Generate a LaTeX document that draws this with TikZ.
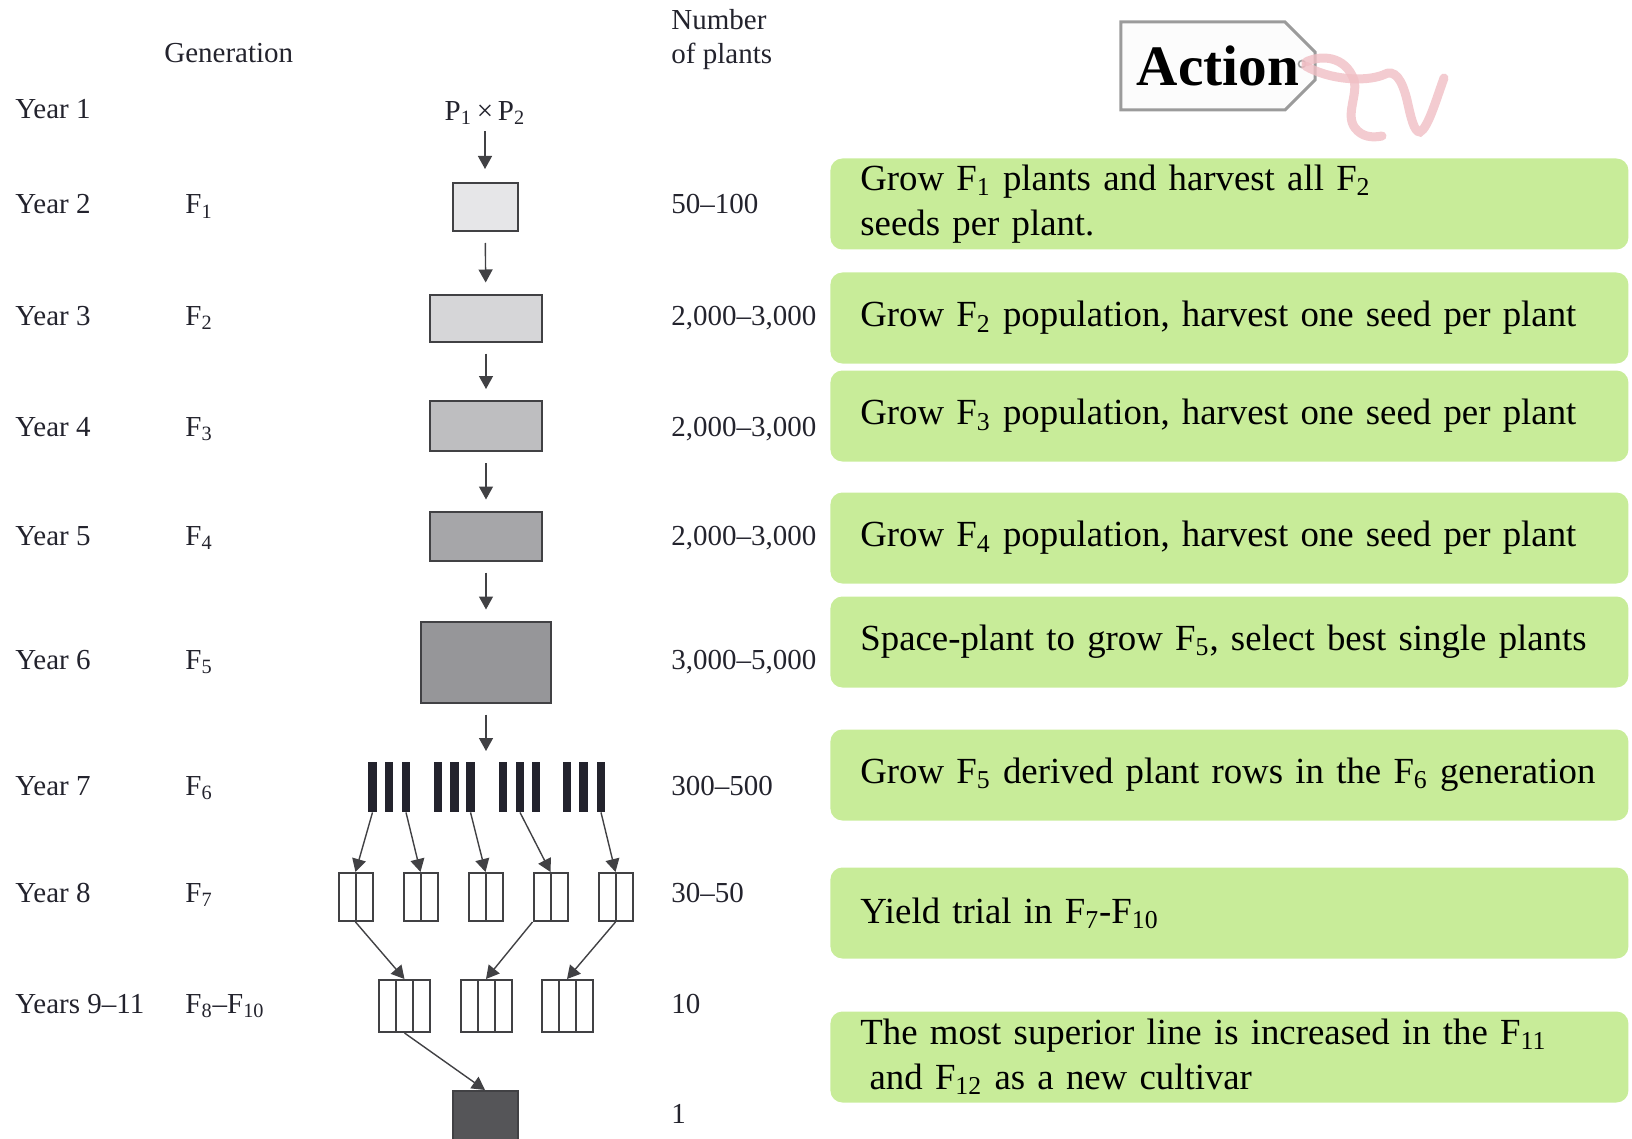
\documentclass[tikz,border=0pt]{standalone}
\usepackage{fontspec}
\setmainfont{Liberation Serif}
\usepackage{tikz}
\usetikzlibrary{arrows.meta, positioning, shapes.misc}
\definecolor{mydark}{RGB}{35,35,45}
\definecolor{myedge}{RGB}{65,65,68}
\definecolor{mygreen}{RGB}{200,236,153}
\definecolor{mypink}{RGB}{240,190,196}
\definecolor{tagedge}{RGB}{155,155,155}
\definecolor{tagfill}{RGB}{252,252,252}
\definecolor{shadeA}{RGB}{230,230,232}
\definecolor{shadeB}{RGB}{214,214,216}
\definecolor{shadeC}{RGB}{190,190,192}
\definecolor{shadeD}{RGB}{166,166,169}
\definecolor{shadeE}{RGB}{150,150,153}
\definecolor{shadeF}{RGB}{85,85,88}
\newcommand{\lblfont}{\fontsize{14.5}{17.4}\selectfont}
\newcommand{\actfont}{\fontsize{18.4}{22.5}\selectfont}
\newcommand{\Fs}[1]{F\textsubscript{#1}}
\tikzset{
  lbl/.style={anchor=base west, font=\lblfont, text=mydark, inner sep=0pt},
  genbox/.style={rectangle, draw=myedge, line width=1pt, inner sep=0pt},
  bar/.style={rectangle, fill=mydark, minimum width=4.3pt, minimum height=25pt, inner sep=0pt},
  rowbox/.style={genbox, fill=white, minimum width=17pt, minimum height=24pt,
    path picture={\draw[myedge, line width=1pt] (path picture bounding box.north)
      -- (path picture bounding box.south);}},
  trialbox/.style={genbox, fill=white, minimum width=25.5pt, minimum height=26pt,
    path picture={\foreach \dx in {-4.25pt,4.25pt}
      \draw[myedge, line width=1pt] ([xshift=\dx]path picture bounding box.north)
        -- ([xshift=\dx]path picture bounding box.south);}},
  actbox/.style={rectangle, anchor=west, fill=mygreen, rounded corners=6pt,
    minimum height=45.5pt, text width=369pt, inner xsep=15pt, inner ysep=0pt,
    align=left, font=\actfont},
  tag/.style={chamfered rectangle, chamfered rectangle corners={north east, south east},
    chamfered rectangle xsep=8pt, chamfered rectangle ysep=7pt,
    draw=tagedge, fill=tagfill, line width=1.5pt, minimum width=95pt,
    minimum height=44pt, inner sep=0pt, font=\fontsize{28.6}{34}\selectfont\bfseries},
  arrow/.style={-{Triangle[width=7pt,length=6.5pt]}, line width=0.7pt, color=myedge},
  vstep/.style={arrow, shorten <=5.5pt, shorten >=5.5pt},
  tagstring/.style={line width=4.5pt, color=mypink, line cap=round, opacity=0.8}
}

\begin{document}
\begin{tikzpicture}[x=0.5pt, y=-0.5pt]
  \useasboundingbox (0,0) rectangle (1632,1139);

  % column headers
  \node[lbl] (hgen) at (164,63) {Generation};
  \node[lbl] (hnum) at (671,30) {Number};
  \node[lbl] (hnum2) at (671,64) {of plants};

  % year, generation and plant count per row
  \node[lbl] (yr0) at (15,119) {Year 1};
  \foreach \b/\yr/\gen/\num [count=\i] in {
      214/Year 2/\Fs{1}/50--100,
      325/Year 3/\Fs{2}/{2,000--3,000},
      436/Year 4/\Fs{3}/{2,000--3,000},
      545/Year 5/\Fs{4}/{2,000--3,000},
      669/Year 6/\Fs{5}/{3,000--5,000},
      795/Year 7/\Fs{6}/300--500,
      902/Year 8/\Fs{7}/30--50,
      1013/Years 9--11/\Fs{8}--\Fs{10}/10}
  {
    \node[lbl] (yr\i) at (15,\b) {\yr};
    \node[lbl] (gen\i) at (185,\b) {\gen};
    \node[lbl] (num\i) at (671,\b) {\num};
  }
  \node[lbl] (num9) at (671,1123) {1};

  % cross and bulk generations
  \node[font=\lblfont, text=mydark, inner sep=0pt] (p12) at (485,113) {P\textsubscript{1}\,×\,P\textsubscript{2}};
  \node[genbox, fill=shadeA, minimum width=32.5pt, minimum height=24pt] (f1) at (485,207) {};
  \node[genbox, fill=shadeB, minimum width=56pt, minimum height=23.5pt] (f2) at (486,318) {};
  \node[genbox, fill=shadeC, minimum width=56pt, minimum height=25pt] (f3) at (486,426) {};
  \node[genbox, fill=shadeD, minimum width=56pt, minimum height=24.5pt] (f4) at (486,536) {};
  \node[genbox, fill=shadeE, minimum width=65pt, minimum height=40.5pt] (f5) at (486,662) {};
  \coordinate (rows) at (486,762);

  \draw[arrow, shorten <=3pt, shorten >=6.5pt] (p12) -- (f1);
  \draw[vstep] (f1) -- (f2);
  \draw[vstep] (f2) -- (f3);
  \draw[vstep] (f3) -- (f4);
  \draw[vstep] (f4) -- (f5);
  \draw[vstep] (f5) -- (rows);

  % plant rows
  \foreach \x [count=\i] in {372.5,389,406, 438,454.5,470.5, 503,520,536, 567,583.5,601}
    \node[bar] (bar\i) at (\x,787) {};

  % selected rows and yield trials
  \foreach \x [count=\i] in {355.5,420.5,485.5,550.5,615.5}
    \node[rowbox] (sel\i) at (\x,897) {};
  \foreach \x [count=\i] in {404.5,486,567}
    \node[trialbox] (tri\i) at (\x,1006) {};
  \node[genbox, fill=shadeF, minimum width=32.5pt, minimum height=26pt] (cv) at (485,1117) {};

  \draw[arrow] (bar1.south) -- (sel1.north);
  \draw[arrow] (bar3.south) -- (sel2.north);
  \draw[arrow] (bar6.south) -- (sel3.north);
  \draw[arrow] (bar8.south) -- (sel4.north);
  \draw[arrow] (bar12.south) -- (sel5.north);
  \draw[arrow] (sel1.south) -- (tri1.north);
  \draw[arrow] (sel4.south west) -- (tri2.north);
  \draw[arrow] (sel5.south) -- (tri3.north);
  \draw[arrow] (tri1.south) -- (cv.north);

  % action panel
  \node[tag] (action) at (1218,66) {Action};
  \node[circle, draw=tagedge, line width=0.8pt, minimum size=3.5pt, inner sep=0pt] (hole) at (1302,64) {};
  \draw[tagstring] (hole) .. controls (1320,55) and (1345,55) .. (1354,80)
    .. controls (1358,95) and (1345,115) .. (1355,128)
    .. controls (1362,137) and (1372,138) .. (1382,136);
  \draw[tagstring] (hole) .. controls (1330,80) and (1365,82) .. (1383,75)
    .. controls (1395,68) and (1402,80) .. (1407,100)
    .. controls (1411,118) and (1414,132) .. (1420,132)
    .. controls (1428,128) and (1436,100) .. (1444,78);

  \node[actbox] (act1) at (830,204) {Grow \Fs{1} plants and harvest all \Fs{2}\\seeds per plant.};
  \node[actbox] (act2) at (830,318) {Grow \Fs{2} population, harvest one seed per plant};
  \node[actbox] (act3) at (830,416) {Grow \Fs{3} population, harvest one seed per plant};
  \node[actbox] (act4) at (830,538) {Grow \Fs{4} population, harvest one seed per plant};
  \node[actbox] (act5) at (830,642) {Space-plant to grow \Fs{5}, select best single plants};
  \node[actbox] (act6) at (830,775) {Grow \Fs{5} derived plant rows in the \Fs{6} generation};
  \node[actbox] (act7) at (830,913) {Yield trial in \Fs{7}-\Fs{10}};
  \node[actbox] (act8) at (830,1057) {The most superior line is increased in the \Fs{11}\\\hspace{0.25em}and \Fs{12} as a new cultivar};
\end{tikzpicture}
\end{document}
